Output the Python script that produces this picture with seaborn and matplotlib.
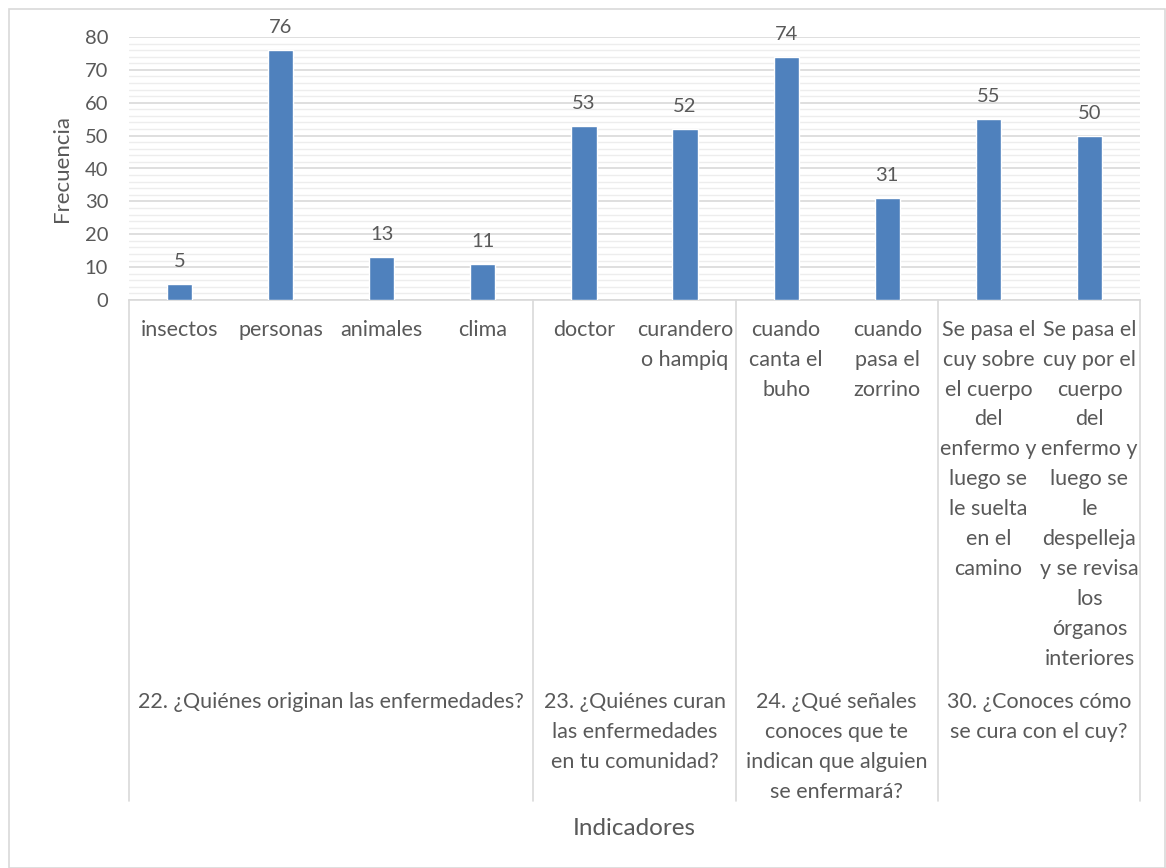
import numpy as np
import pandas as pd
import matplotlib
matplotlib.use("Agg")
import matplotlib.pyplot as plt
import matplotlib.patches as patches
from matplotlib.ticker import MultipleLocator
import seaborn as sns

# Data
categorias = ["insectos", "personas", "animales", "clima", "doctor",
              "curandero\no hampiq", "cuando\ncanta el\nbuho", "cuando\npasa el\nzorrino",
              "Se pasa el\ncuy sobre\nel cuerpo\ndel\nenfermo y\nluego se\nle suelta\nen el\ncamino",
              "Se pasa el\ncuy por el\ncuerpo\ndel\nenfermo y\nluego se\nle\ndespelleja\ny se revisa\nlos\nórganos\ninteriores"]
frecuencias = [5, 76, 13, 11, 53, 52, 74, 31, 55, 50]
preguntas = ["22. ¿Quiénes originan las enfermedades?",
             "23. ¿Quiénes curan\nlas enfermedades\nen tu comunidad?",
             "24. ¿Qué señales\nconoces que te\nindican que alguien\nse enfermará?",
             "30. ¿Conoces cómo\nse cura con el cuy?"]
grupo_tam = [4, 2, 2, 2]

sns.set_theme(style="white")
plt.rcParams['font.family'] = ['Lato', 'DejaVu Sans']
txt = "#595959"

df = pd.DataFrame({"idx": [str(i) for i in range(len(frecuencias))], "Frecuencia": frecuencias})

fig = plt.figure(figsize=(11.66, 8.68), dpi=100)
ax = fig.add_axes([129 / 1166, 1 - 300 / 868, (1140 - 129) / 1166, (300 - 37) / 868])

sns.barplot(data=df, x="idx", y="Frecuencia", color="#4f81bd", width=0.25,
            saturation=1, ax=ax, zorder=3)

ax.set_ylim(0, 80)
ax.set_xlim(-0.5, len(frecuencias) - 0.5)
ax.yaxis.set_major_locator(MultipleLocator(10))
ax.yaxis.set_minor_locator(MultipleLocator(2))
ax.grid(which="major", axis="y", color="#d9d9d9", lw=1.2, zorder=0)
ax.grid(which="minor", axis="y", color="#ededed", lw=1.0, zorder=0)
ax.grid(axis="x", visible=False)
for s in ["top", "right", "left"]:
    ax.spines[s].set_visible(False)
ax.spines["bottom"].set_color("#d9d9d9")
ax.spines["bottom"].set_linewidth(1.2)
ax.tick_params(axis="y", which="both", length=0, labelsize=14.5, labelcolor=txt, pad=15)
ax.set_xticks([])
ax.set_xlabel("")
ax.set_ylabel("Frecuencia", fontsize=16, color=txt, labelpad=9)

for cont in ax.containers:
    ax.bar_label(cont, fontsize=14.5, color=txt, padding=10)

# category labels under each bar
for i, lab in enumerate(categorias):
    ax.text(i, -0.075, lab, transform=ax.get_xaxis_transform(), ha="center", va="top",
            fontsize=15.5, color=txt, linespacing=1.62)

# group separators and question labels
edges = np.concatenate([[0], np.cumsum(grupo_tam)]) - 0.5
for e in edges:
    ax.plot([e, e], [0, -1.905], transform=ax.get_xaxis_transform(), color="#d9d9d9",
            lw=1.2, clip_on=False)
for k, q in enumerate(preguntas):
    c = (edges[k] + edges[k + 1]) / 2
    ax.text(c, -1.49, q, transform=ax.get_xaxis_transform(), ha="center", va="top",
            fontsize=15.5, color=txt, linespacing=1.62)

ax.text(0.5, -2.01, "Indicadores", transform=ax.transAxes, ha="center", va="center",
        fontsize=17.5, color=txt)

fig.patches.append(patches.Rectangle((9 / 1166, 0), 1 - 9 / 1166 - 0.001, 1 - 9 / 868,
                                     transform=fig.transFigure, fill=False,
                                     edgecolor="#d9d9d9", lw=1.2))

fig.savefig("out.png", dpi=100)
